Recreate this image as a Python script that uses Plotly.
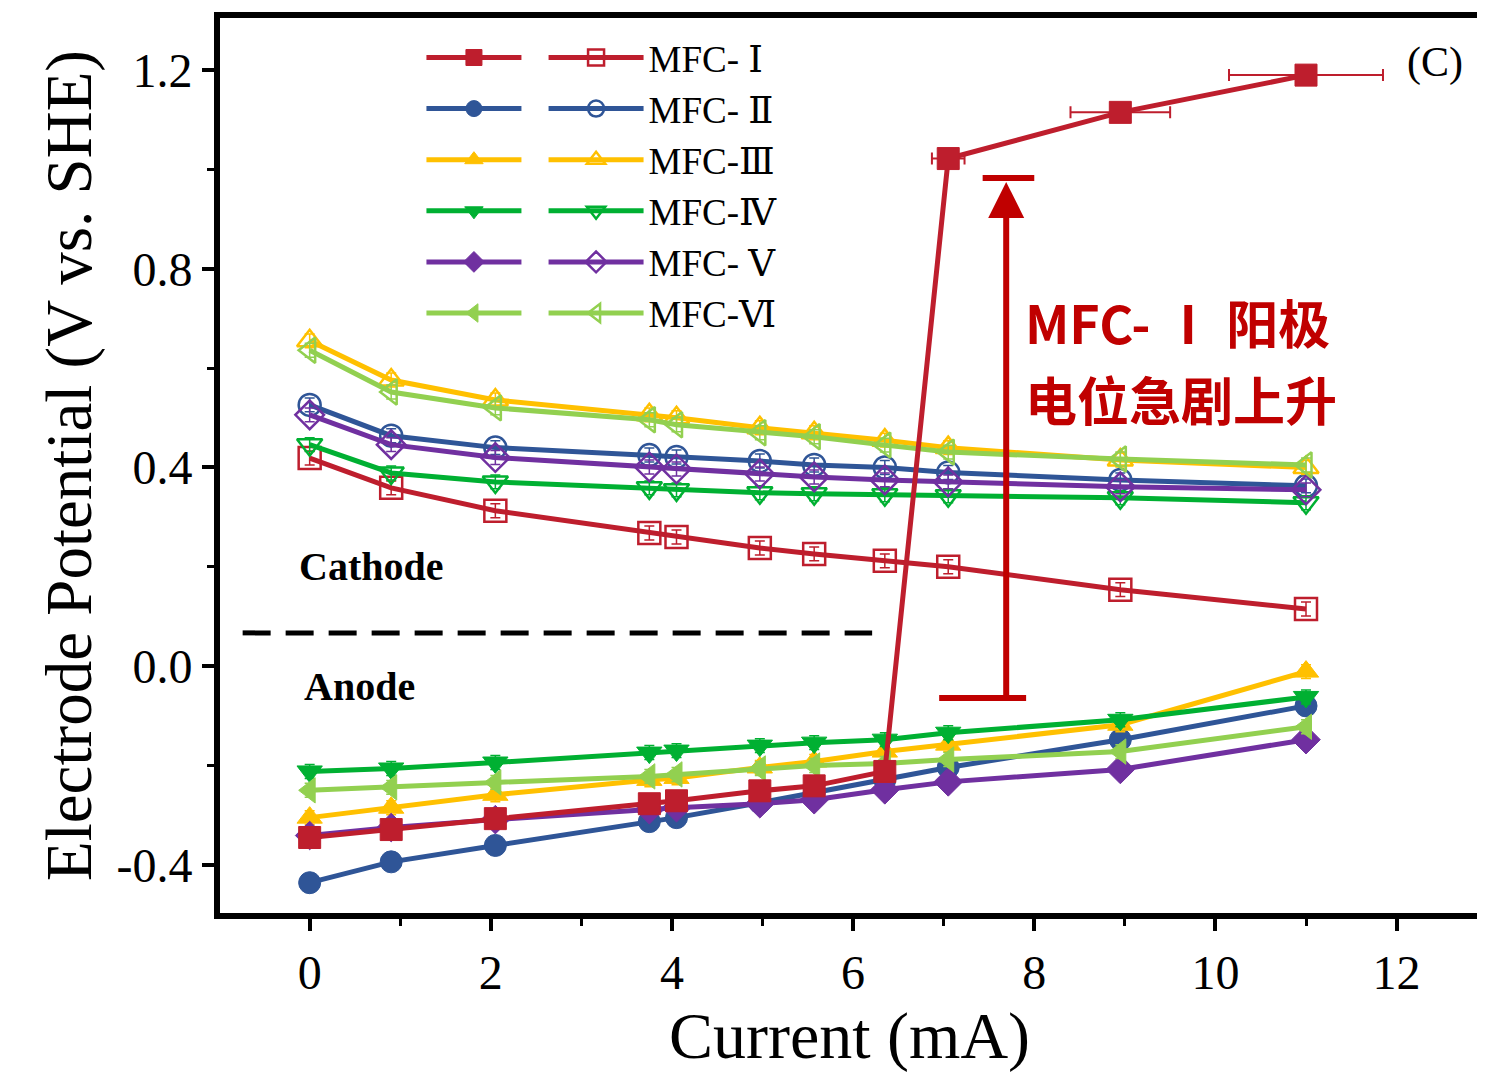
import plotly.graph_objects as go

# ---- data ----
current = [0, 0.9, 2.05, 3.75, 4.05, 4.97, 5.57, 6.35, 7.05, 8.95, 11.0]

names = ["MFC- Ⅰ", "MFC- Ⅱ", "MFC-Ⅲ", "MFC-Ⅳ", "MFC- Ⅴ", "MFC-Ⅵ"]
colors = ["#BE1E2D", "#2F5597", "#FFC000", "#00B032", "#7030A0", "#92D050"]
sym_fill = ["square", "circle", "triangle-up", "triangle-down", "diamond", "triangle-left"]
sym_open = ["square-open", "circle-open", "triangle-up-open", "triangle-down-open", "diamond-open", "triangle-left-open"]

anode_I = [-0.345, -0.329, -0.307, -0.277, -0.271, -0.251, -0.241, -0.212, 1.022, 1.115, 1.19]
anode_II = [-0.436, -0.394, -0.361, -0.313, -0.305, -0.275, -0.255, -0.229, -0.204, -0.148, -0.080]
anode_III = [-0.305, -0.285, -0.259, -0.229, -0.225, -0.204, -0.192, -0.172, -0.158, -0.118, -0.011]
anode_IV = [-0.212, -0.206, -0.194, -0.174, -0.170, -0.160, -0.154, -0.148, -0.134, -0.108, -0.062]
anode_V = [-0.341, -0.325, -0.309, -0.289, -0.285, -0.277, -0.269, -0.249, -0.233, -0.208, -0.148]
anode_VI = [-0.250, -0.244, -0.234, -0.222, -0.218, -0.206, -0.200, -0.196, -0.188, -0.172, -0.122]

cathode_I = [0.419, 0.359, 0.313, 0.268, 0.260, 0.238, 0.226, 0.212, 0.200, 0.154, 0.115]
cathode_II = [0.526, 0.464, 0.440, 0.425, 0.421, 0.413, 0.405, 0.400, 0.390, 0.375, 0.363]
cathode_III = [0.655, 0.576, 0.536, 0.506, 0.500, 0.480, 0.470, 0.455, 0.440, 0.415, 0.400]
cathode_IV = [0.446, 0.389, 0.371, 0.359, 0.355, 0.349, 0.347, 0.345, 0.343, 0.339, 0.329]
cathode_V = [0.506, 0.446, 0.420, 0.401, 0.397, 0.387, 0.381, 0.375, 0.371, 0.361, 0.355]
cathode_VI = [0.636, 0.552, 0.520, 0.496, 0.486, 0.470, 0.462, 0.445, 0.431, 0.417, 0.405]

xerr_anode_I = [0, 0, 0, 0, 0, 0, 0, 0, 0.18, 0.55, 0.85]

anodes = [anode_I, anode_II, anode_III, anode_IV, anode_V, anode_VI]
cathodes = [cathode_I, cathode_II, cathode_III, cathode_IV, cathode_V, cathode_VI]

ytick_vals = [-0.4, 0.0, 0.4, 0.8, 1.2]
ytick_text = ["-0.4", "0.0", "0.4", "0.8", "1.2"]
xtick_vals = [0, 2, 4, 6, 8, 10, 12]

SERIF = "Liberation Serif, Times New Roman, serif"
LEG_FONT = "Liberation Serif, DejaVu Serif, serif"
CJK = "Noto Sans CJK SC, sans-serif"
ARROW_RED = "#C00000"

fig = go.Figure()

# cathode (open) series
for i in range(6):
    c = colors[i]
    fig.add_trace(go.Scatter(
        x=current, y=cathodes[i], mode="lines+markers", name=names[i],
        legend="legend2", legendrank=i + 1,
        line=dict(color=c, width=5),
        marker=dict(symbol=sym_open[i], size=22, color=c, line=dict(color=c, width=2.5)),
        error_y=dict(type="constant", value=0.014, color=c, thickness=1.5, width=5),
    ))

# anode (filled) series, MFC-I drawn last so its jump sits on top
for i in [1, 2, 3, 4, 5, 0]:
    c = colors[i]
    kw = {}
    if i == 0:
        kw["error_x"] = dict(type="data", array=xerr_anode_I, color=c, thickness=2, width=6)
    fig.add_trace(go.Scatter(
        x=current, y=anodes[i], mode="lines+markers", name=" ",
        legend="legend", legendrank=i + 1,
        line=dict(color=c, width=5),
        marker=dict(symbol=sym_fill[i], size=22, color=c, line=dict(color=c, width=1)),
        error_y=dict(type="constant", value=0.014, color=c, thickness=1.5, width=5),
        **kw,
    ))

fig.update_layout(
    width=1477, height=1075,
    margin=dict(l=212, r=0, t=10, b=170),
    paper_bgcolor="white", plot_bgcolor="white",
    font=dict(family=SERIF, color="black"),
    showlegend=True,
    legend=dict(x=0.16, y=0.99, xanchor="left", yanchor="top",
                bgcolor="rgba(0,0,0,0)", font=dict(family=LEG_FONT, size=37),
                traceorder="normal", itemwidth=95, itemsizing="trace"),
    legend2=dict(x=0.257, y=0.99, xanchor="left", yanchor="top",
                 bgcolor="rgba(0,0,0,0)", font=dict(family=LEG_FONT, size=37),
                 traceorder="normal", itemwidth=95, itemsizing="trace"),
)

fig.update_xaxes(
    range=[-0.99, 12.91], showgrid=False, zeroline=False,
    showline=True, linecolor="black", linewidth=6, mirror=True,
    ticks="outside", ticklen=12, tickwidth=4, tickcolor="black",
    tickvals=xtick_vals, tickfont=dict(family=SERIF, size=48),
    minor=dict(dtick=1, tick0=0, ticks="outside", ticklen=7, tickwidth=3, tickcolor="black"),
    title=dict(text="Current (mA)", font=dict(family=SERIF, size=66), standoff=2),
)
fig.update_yaxes(
    range=[-0.497, 1.305], showgrid=False, zeroline=False,
    showline=True, linecolor="black", linewidth=6, mirror=True,
    ticks="outside", ticklen=12, tickwidth=4, tickcolor="black",
    tickvals=ytick_vals, ticktext=ytick_text, tickfont=dict(family=SERIF, size=48),
    minor=dict(dtick=0.2, tick0=0, ticks="outside", ticklen=7, tickwidth=3, tickcolor="black"),
    title=dict(text="Electrode Potential (V vs. SHE)", font=dict(family=SERIF, size=65), standoff=6),
)

# dashed separator line
fig.add_shape(type="line", xref="x", yref="y", x0=-0.74, x1=6.21, y0=0.067, y1=0.067,
              line=dict(color="black", width=5, dash="28px,15px"))

# red arrow with bars
fig.add_shape(type="line", xref="x", yref="y", x0=6.95, x1=7.91, y0=-0.064, y1=-0.064,
              line=dict(color=ARROW_RED, width=6))
fig.add_shape(type="line", xref="x", yref="y", x0=7.43, x1=8.0, y0=0.983, y1=0.983,
              line=dict(color=ARROW_RED, width=6))
fig.add_annotation(x=7.69, y=0.975, ax=7.69, ay=-0.064, xref="x", yref="y", axref="x", ayref="y",
                   showarrow=True, arrowhead=2, arrowsize=1.2, arrowwidth=6, arrowcolor=ARROW_RED, text="")

# text annotations
fig.add_annotation(x=0.68, y=0.2, xref="x", yref="y", text="<b>Cathode</b>", showarrow=False,
                   font=dict(family=SERIF, size=40, color="black"))
fig.add_annotation(x=0.55, y=-0.041, xref="x", yref="y", text="<b>Anode</b>", showarrow=False,
                   font=dict(family=SERIF, size=40, color="black"))
fig.add_annotation(x=7.88, y=0.693, xref="x", yref="y", xanchor="left",
                   text="<b>MFC- Ⅰ 阳极</b>", showarrow=False,
                   font=dict(family=CJK, size=52, color=ARROW_RED))
fig.add_annotation(x=7.88, y=0.538, xref="x", yref="y", xanchor="left",
                   text="<b>电位急剧上升</b>", showarrow=False,
                   font=dict(family=CJK, size=52, color=ARROW_RED))
fig.add_annotation(x=12.42, y=1.216, xref="x", yref="y", text="(C)", showarrow=False,
                   font=dict(family=SERIF, size=42, color="black"))

fig.write_html("out.html")
